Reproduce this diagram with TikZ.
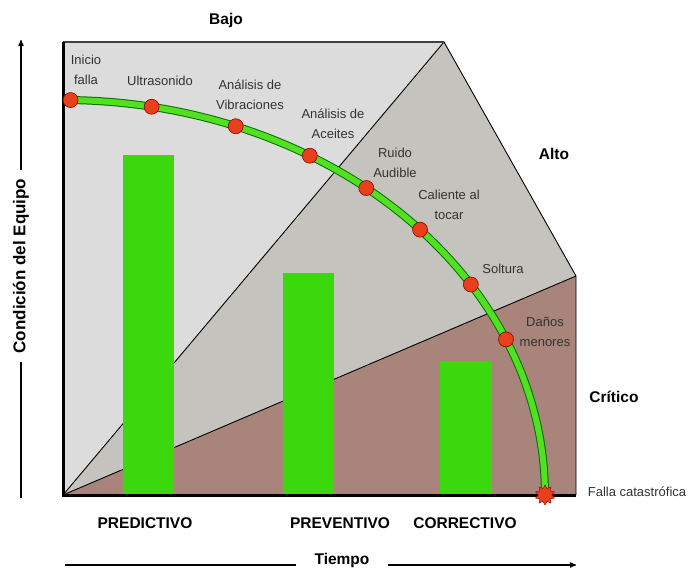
\documentclass[tikz,border=0pt]{standalone}
\usepackage{fontspec}
\setmainfont{Liberation Sans}
\usepackage{xcolor}
\usepackage{tikz}
\usetikzlibrary{shapes, arrows, shapes.geometric}

\definecolor{lightzone}{HTML}{DCDCDC}
\definecolor{midzone}{HTML}{C5C3BD}
\definecolor{critzone}{HTML}{A9847B}
\definecolor{bargreen}{HTML}{3AD80C}
\definecolor{curvegreen}{HTML}{52E021}
\definecolor{dotred}{HTML}{E8401A}
\definecolor{txtgray}{HTML}{333333}

\begin{document}
\begin{tikzpicture}[x=1pt,y=-1pt,>=stealth',
      zone line/.style={line width=0.9pt},
      dot node/.style={circle,fill=dotred,draw=red!55!black,line width=0.6pt,minimum size=15pt,inner sep=0pt},
      small node/.style={align=center,text=txtgray,font=\fontsize{13}{20}\selectfont},
      bold node/.style={font=\fontsize{15.5}{18}\selectfont\bfseries}]

    \useasboundingbox (0,0) rectangle (691,569);

    \coordinate (o) at (63,495);
    \coordinate (top) at (63,42);
    \coordinate (apex) at (444,42);
    \coordinate (rtop) at (576,276);
    \coordinate (rbot) at (576,495);

    \fill[lightzone] (o) -- (top) -- (apex) -- cycle;
    \fill[midzone] (o) -- (apex) -- (rtop) -- cycle;
    \fill[critzone] (o) -- (rtop) -- (rbot) -- cycle;
    \draw[zone line] (o) -- (apex) -- (rtop) -- (rbot);
    \draw[zone line] (o) -- (rtop);
    \draw[line width=1.5pt,black!75] (top) -- (apex);

    \fill[bargreen] (123,155) rectangle (174,495);
    \fill[bargreen] (283,273) rectangle (334,495);
    \fill[bargreen] (440,361) rectangle (492,495);

    \draw[line width=3pt] (top) -- (o) -- (rbot);

    \draw[line width=8pt,green!45!black] plot[domain=0:89.2,samples=80] ({63+482*cos(\x)},{495-395*sin(\x)});
    \draw[line width=6pt,curvegreen] plot[domain=0:89.2,samples=80] ({63+482*cos(\x)},{495-395*sin(\x)});

    \foreach \a/\n in {89.1/inicio, 79.4/ultra, 69/vibra, 59.2/aceite, 51/ruido, 42.2/caliente, 32.2/soltura, 23.2/danos}
        \node[dot node] (\n) at ({63+482*cos(\a)},{495-395*sin(\a)}) {};
    \node[star,star points=10,star point ratio=1.5,fill=dotred,draw=red!60!black,minimum size=20pt,inner sep=0pt] (falla) at (545,495) {};

    \node[small node] (l1) at (86,70) {Inicio\\falla};
    \node[small node] (l2) at (160,81) {Ultrasonido};
    \node[small node] (l3) at (250,95) {Análisis de\\Vibraciones};
    \node[small node] (l4) at (333,124) {Análisis de\\Aceites};
    \node[small node] (l5) at (395,163) {Ruido\\Audible};
    \node[small node] (l6) at (449,205) {Caliente al\\tocar};
    \node[small node] (l7) at (503,269) {Soltura};
    \node[small node] (l8) at (545,332) {Daños\\menores};
    \node[small node] (l9) at (637,492) {Falla catastrófica};

    \node[bold node] (bajo) at (226,20) {Bajo};
    \node[bold node] (alto) at (554,154) {Alto};
    \node[bold node] (critico) at (614,397) {Crítico};
    \node[bold node] (pred) at (145,523) {PREDICTIVO};
    \node[bold node] (prev) at (340,523) {PREVENTIVO};
    \node[bold node] (corr) at (465,523) {CORRECTIVO};

    \node[bold node,font=\fontsize{17}{20}\selectfont\bfseries,rotate=90,inner xsep=8pt] (cond) at (21,266) {Condición del Equipo};
    \coordinate (ybot) at (21,498);
    \coordinate (ytop) at (21,40);
    \draw[line width=1.2pt] (ybot) -- (cond.west);
    \draw[line width=1.2pt,->] (cond.east) -- (ytop);

    \node[bold node,inner xsep=18pt] (tiempo) at (342,560) {Tiempo};
    \coordinate (xleft) at (65,565);
    \coordinate (xright) at (576,565);
    \draw[line width=1.2pt] (xleft) -- (xleft -| tiempo.west);
    \draw[line width=1.2pt,->] (xright -| tiempo.east) -- (xright);
\end{tikzpicture}
\end{document}
